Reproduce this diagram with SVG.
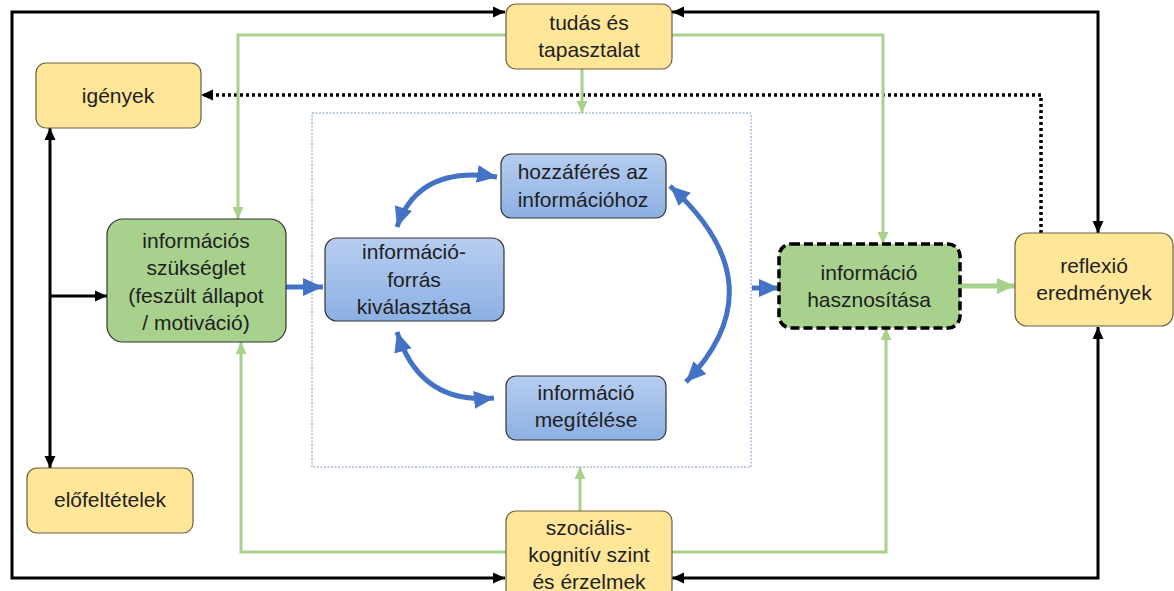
<svg xmlns="http://www.w3.org/2000/svg" width="1174" height="591" viewBox="0 0 1174 591">
<style>
text{font-family:"Liberation Sans",Arial,sans-serif;font-size:21px;fill:#1e1e1e;text-anchor:middle}
.y{fill:#FFE699;stroke:#6b6040;stroke-width:1.2}
.g{fill:#A9D18E;stroke:#333;stroke-width:1.2}
.b{fill:url(#bg);stroke:#333;stroke-width:1.2}
.k{fill:none;stroke:#000;stroke-width:3}
.gr{fill:none;stroke:#A9D18E;stroke-width:3}
.bl{fill:none;stroke:#4472C4;stroke-width:5}
</style>
<defs>
<linearGradient id="bg" x1="0" y1="0" x2="0" y2="1"><stop offset="0" stop-color="#b7cdf0"/><stop offset="1" stop-color="#8cb0e3"/></linearGradient>
<marker id="ak" markerUnits="userSpaceOnUse" markerWidth="14" markerHeight="14" refX="12" refY="7" orient="auto-start-reverse"><path d="M0,1.5 L12,7 L0,12.5 Z" fill="#000"/></marker>
<marker id="ag" markerUnits="userSpaceOnUse" markerWidth="14" markerHeight="14" refX="12" refY="7" orient="auto-start-reverse"><path d="M0,1.5 L12,7 L0,12.5 Z" fill="#A9D18E"/></marker>
<marker id="agb" markerUnits="userSpaceOnUse" markerWidth="20" markerHeight="20" refX="18" refY="10" orient="auto-start-reverse"><path d="M0,2 L18,10 L0,18 Z" fill="#A9D18E"/></marker>
<marker id="ab" markerUnits="userSpaceOnUse" markerWidth="22" markerHeight="22" refX="20" refY="11" orient="auto-start-reverse"><path d="M0,2 L20,11 L0,20 Z" fill="#4472C4"/></marker>
</defs>
<rect x="0" y="0" width="1174" height="591" fill="#fff"/>
<rect id="inner-frame" x="312" y="113" width="439" height="354" fill="none" stroke="#5a7fb5" stroke-width="0.8" stroke-dasharray="2 1.5"/>
<g id="connectors">
<path class="k" d="M505,12 H12 V578 H505" marker-start="url(#ak)" marker-end="url(#ak)"/>
<path class="k" d="M672,12 H1098 V233" marker-start="url(#ak)" marker-end="url(#ak)"/>
<path class="k" d="M1098,327 V578 H672" marker-start="url(#ak)" marker-end="url(#ak)"/>
<path class="k" d="M50,128 V468" marker-start="url(#ak)" marker-end="url(#ak)"/>
<path class="k" d="M50,296 H107" marker-end="url(#ak)"/>
<path d="M1041,233 V95 H201" fill="none" stroke="#000" stroke-width="3.5" stroke-dasharray="3 3" marker-end="url(#ak)"/>
<path class="gr" d="M506,35 H238 V219" marker-end="url(#ag)"/>
<path class="gr" d="M672,35 H883 V244" marker-end="url(#ag)"/>
<path class="gr" d="M582,69 V113" marker-end="url(#ag)"/>
<path class="gr" d="M506,552 H241 V342" marker-end="url(#ag)"/>
<path class="gr" d="M672,552 H886 V328" marker-end="url(#ag)"/>
<path class="gr" d="M580,511 V467" marker-end="url(#ag)"/>
<path d="M960,286 H1015" fill="none" stroke="#A9D18E" stroke-width="5" marker-end="url(#agb)"/>
<path class="bl" d="M286,287 H323" marker-end="url(#ab)"/>
<path class="bl" d="M752,288 H779" marker-end="url(#ab)"/>
<path class="bl" d="M397,227 Q418,165 497,177" marker-start="url(#ab)" marker-end="url(#ab)"/>
<path class="bl" d="M397,332 Q420,405 494,398" marker-start="url(#ab)" marker-end="url(#ab)"/>
<path class="bl" d="M670,186 Q780,285 686,382" marker-start="url(#ab)" marker-end="url(#ab)"/>
</g>
<g id="tudas"><rect class="y" x="506" y="4" width="166" height="65" rx="10"/><text x="589" y="30">tudás és</text><text x="589" y="57">tapasztalat</text></g>
<g id="igenyek"><rect class="y" x="36" y="63" width="165" height="65" rx="10"/><text x="118" y="103">igények</text></g>
<g id="szukseglet"><rect class="g" x="107" y="219" width="179" height="123" rx="16"/><text x="196" y="248">információs</text><text x="196" y="275">szükséglet</text><text x="196" y="303">(feszült állapot</text><text x="196" y="330">/ motiváció)</text></g>
<g id="elofeltetelek"><rect class="y" x="27" y="468" width="166" height="65" rx="10"/><text x="110" y="507">előfeltételek</text></g>
<g id="forras"><rect class="b" x="325" y="238" width="179" height="83" rx="12"/><text x="414" y="259">információ-</text><text x="414" y="287">forrás</text><text x="414" y="314">kiválasztása</text></g>
<g id="hozzaferes"><rect class="b" x="501" y="154" width="165" height="64" rx="10"/><text x="583" y="179">hozzáférés az</text><text x="583" y="207">információhoz</text></g>
<g id="megitelese"><rect class="b" x="506" y="376" width="160" height="64" rx="10"/><text x="586" y="400">információ</text><text x="586" y="427">megítélése</text></g>
<g id="hasznositasa"><rect x="779" y="244" width="181" height="84" rx="12" fill="#A9D18E" stroke="#000" stroke-width="3.5" stroke-dasharray="9 4"/><text x="869" y="280">információ</text><text x="869" y="307">hasznosítása</text></g>
<g id="reflexio"><rect class="y" x="1015" y="233" width="158" height="93" rx="12"/><text x="1094" y="273">reflexió</text><text x="1094" y="300">eredmények</text></g>
<g id="szocialis"><rect class="y" x="506" y="511" width="166" height="88" rx="10"/><text x="589" y="535">szociális-</text><text x="589" y="562">kognitív szint</text><text x="589" y="589">és érzelmek</text></g>
</svg>
